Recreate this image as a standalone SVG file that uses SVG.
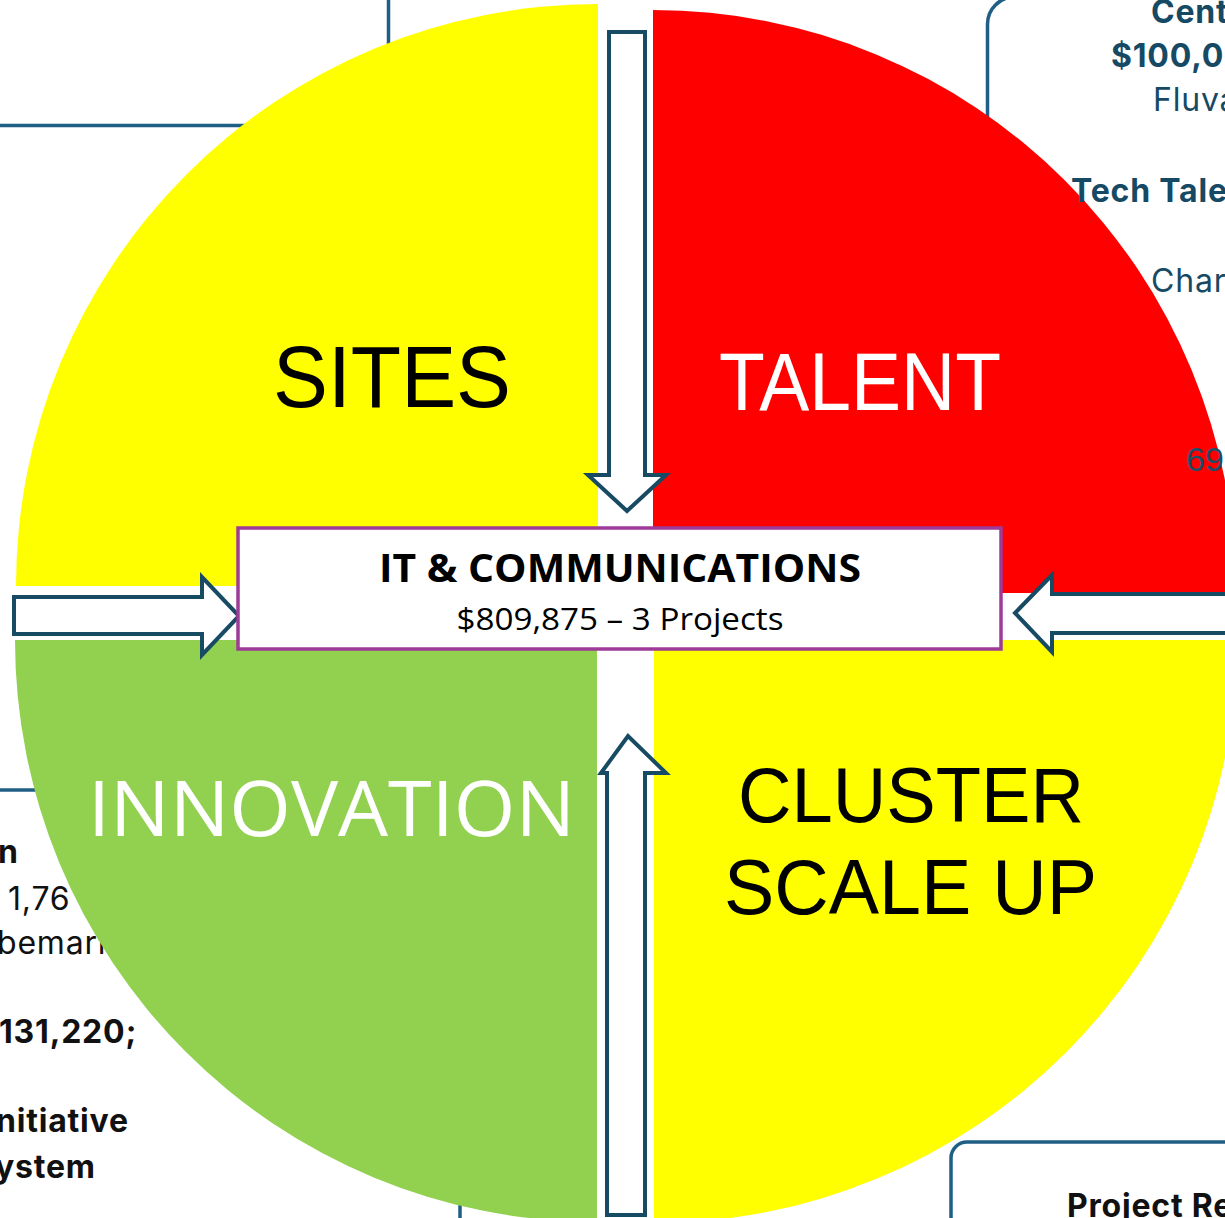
<svg xmlns="http://www.w3.org/2000/svg" width="1225" height="1218" viewBox="0 0 1225 1218">
<style>
.bgline{fill:none;stroke:#1f5f85;stroke-width:3.5}
.arrow{fill:#ffffff;stroke:#174a63;stroke-width:4;stroke-linejoin:miter}
.big{font-family:"Liberation Sans",Arial,sans-serif}
.inno{font-family:"Open Sans","Noto Sans",sans-serif}
.side{font-family:Inter,"Noto Sans",sans-serif;font-size:32px;letter-spacing:0.8px}
.tr{fill:#164a64}
.bl{fill:#111111}
.b{font-weight:700}
.ctr{font-family:"Open Sans","Noto Sans",sans-serif;fill:#000000;text-anchor:middle}
</style>
<rect width="1225" height="1218" fill="#ffffff"/>
<g id="background">
  <line class="bgline" x1="0" y1="125.5" x2="300" y2="125.5"/>
  <line class="bgline" x1="388.5" y1="0" x2="388.5" y2="100"/>
  <path class="bgline" d="M987.5,140 V24 A27 27 0 0 1 1014.5,-3 H1230"/>
  <line class="bgline" x1="0" y1="790" x2="100" y2="790"/>
  <line class="bgline" x1="460" y1="1150" x2="460" y2="1225"/>
  <path class="bgline" d="M951,1230 V1158 A16 16 0 0 1 967,1142 H1230"/>
  <text class="side bl b" x="-2" y="863">n</text>
  <text class="side bl" x="8" y="910">1,76</text>
  <text class="side bl" x="-3" y="954">bemarl</text>
  <text class="side bl b" x="-1" y="1043">131,220;</text>
  <text class="side bl b" x="-4" y="1132">nitiative</text>
  <text class="side bl b" x="-5" y="1178">ystem</text>
  <text class="side bl b" x="1067" y="1217">Project Re</text>
</g>
<g id="quadrants">
  <g id="sites">
    <path d="M598,586 L16,586 A582 582 0 0 1 598,4 Z" fill="#ffff00"/>
    <text class="big" x="273" y="407" font-size="88" textLength="238" lengthAdjust="spacingAndGlyphs" fill="#000000">SITES</text>
  </g>
  <g id="talent">
    <path d="M653,593 L653,10 A583 583 0 0 1 1236,593 Z" fill="#ff0000"/>
    <text class="big" x="719" y="410" font-size="81" textLength="282" lengthAdjust="spacingAndGlyphs" fill="#ffffff">TALENT</text>
  </g>
  <g id="cluster">
    <path d="M654,640 L1237,640 A583 583 0 0 1 654,1223 Z" fill="#ffff00"/>
    <text class="big" x="738" y="822" font-size="77" textLength="346" lengthAdjust="spacingAndGlyphs" fill="#000000">CLUSTER</text>
    <text class="big" x="724" y="914" font-size="78" textLength="373" lengthAdjust="spacingAndGlyphs" fill="#000000">SCALE UP</text>
  </g>
  <g id="innovation">
    <path d="M597,640 L597,1222 A582 582 0 0 1 15,640 Z" fill="#92d050"/>
    <text class="inno" x="88" y="836" font-size="76" textLength="487" lengthAdjust="spacingAndGlyphs" fill="#ffffff">INNOVATION</text>
  </g>
</g>
<g id="side-text-top">
  <text class="side tr b" x="1151" y="23">Cent</text>
  <text class="side tr b" x="1111" y="67">$100,00</text>
  <text class="side tr" x="1153" y="111">Fluva</text>
  <text class="side tr b" x="1071" y="202">Tech Tale</text>
  <text class="side tr" x="1151" y="292">Char</text>
  <text x="1186" y="471" font-family="Liberation Sans,Arial,sans-serif" font-size="34" fill="#1f4d68">69</text>
</g>
<g id="connectors">
  <path class="arrow" d="M609,32 H645 V475 H666 L627,511 L588,475 H609 Z"/>
  <path class="arrow" d="M607,1215 V773 H601 L628,736 L666,773 H645 V1215 Z"/>
  <path class="arrow" d="M14,597 H202 V577 L239,616 L202,655 V634 H14 Z"/>
  <path class="arrow" d="M1232,594 H1052 V575 L1015,613 L1052,652 V633 H1232 Z"/>
</g>
<g id="it-communications">
  <rect x="238" y="528" width="763" height="121" fill="#ffffff" stroke="#9e3a98" stroke-width="3.5"/>
  <text class="ctr" x="620" y="582" font-size="40" font-weight="700" textLength="482" lengthAdjust="spacingAndGlyphs">IT &amp; COMMUNICATIONS</text>
  <text class="ctr" x="620" y="630" font-size="31" textLength="327" lengthAdjust="spacingAndGlyphs">$809,875 – 3 Projects</text>
</g>
</svg>
